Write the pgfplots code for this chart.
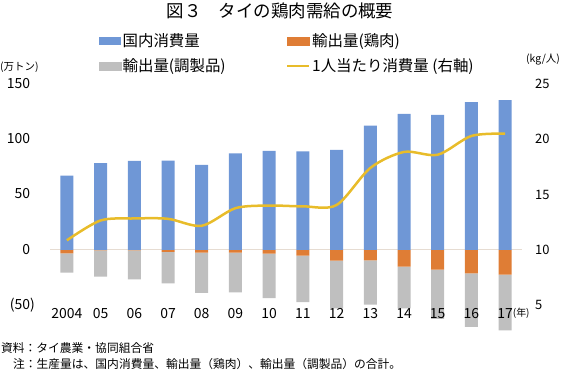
\documentclass[border=0pt]{standalone}
\usepackage{fontspec}
\setmainfont{Noto Sans CJK JP}
\usepackage{pgfplots}
\pgfplotsset{compat=1.18}
\usepackage{pgfplotstable}
\definecolor{cBlue}{HTML}{6F97D6}
\definecolor{cOrange}{HTML}{DF7D35}
\definecolor{cGray}{HTML}{BFBFBF}
\definecolor{cLine}{HTML}{E8BC2A}
\definecolor{cZero}{HTML}{E6DCD2}
\pgfplotstableread{
x blue orange gray line
0 67.1 -3.3 -17.5 10.85
1 78.3 -0.5 -23.9 12.65
2 80.4 -0.5 -26.3 12.83
3 80.7 -2.0 -28.4 12.80
4 76.8 -2.6 -36.5 12.17
5 87.3 -2.5 -36.0 13.76
6 89.4 -3.6 -40.1 14.00
7 89.1 -5.3 -42.0 13.93
8 90.3 -9.9 -43.1 14.05
9 112.3 -9.6 -40.1 17.40
10 122.9 -15.2 -37.8 18.85
11 122.0 -18.0 -44.6 18.60
12 133.7 -21.4 -48.5 20.30
13 135.5 -22.6 -50.3 20.50
}\datatable
\newcommand{\fs}[1]{\fontsize{#1}{#1}\selectfont}
\begin{document}
\begin{tikzpicture}[x=1bp,y=1bp]
\path[use as bounding box] (0,0) rectangle (564,372);
\pgfplotsset{base/.style={at={(50bp,67bp)}, anchor=south west, scale only axis,
  width=472bp, height=221bp, xmin=-0.5, xmax=13.5,
  axis line style={draw=none}, major tick length=0pt, tick style={draw=none}}}
% negative stacked bars
\begin{axis}[base, ymin=-50, ymax=150, ybar stacked, bar width=13bp, clip=false,
  xtick=\empty, ytick=\empty]
\addplot[fill=cOrange, draw=none] table[x=x,y=orange]{\datatable};
\addplot[fill=cGray, draw=none] table[x=x,y=gray]{\datatable};
\end{axis}
% domestic consumption + labels + legend
\begin{axis}[base, ymin=-50, ymax=150, ybar, bar width=13bp, bar shift=0pt, clip=false,
  xtick={0,...,13},
  xticklabels={2004,05,06,07,08,09,10,11,12,13,14,15,16,{17\rlap{\raisebox{2bp}{\fs{10}(年)}}}},
  ytick={-50,0,50,100,150},
  yticklabels={(50),0\phantom{)},50\phantom{)},100\phantom{)},150\phantom{)}},
  x tick label style={font=\fs{14}, inner sep=0pt, anchor=north, yshift=-3bp},
  y tick label style={font=\fs{14}, inner sep=0pt, anchor=east, xshift=-15bp},
  extra y ticks={0}, extra y tick labels={},
  extra y tick style={grid=major, major grid style={draw=cZero, line width=0.8pt}},
  legend columns=2, legend cell align=left,
  legend style={draw=none, fill=none, at={(0.1028,1.234)}, anchor=north west,
    inner sep=0pt, font=\fs{15.5},
    /tikz/every even column/.append style={column sep=59bp},
    row sep=7.5bp, nodes={inner xsep=1.5bp, inner ysep=1.5bp}}]
\addplot[fill=cBlue, draw=none,
  legend image code/.code={\fill[cBlue] (0bp,-4bp) rectangle (22bp,4bp);}]
  table[x=x,y=blue]{\datatable};
\addlegendentry{国内消費量}
\addlegendimage{legend image code/.code={\fill[cOrange] (0bp,-4bp) rectangle (22bp,4bp);}}
\addlegendentry{輸出量(鶏肉)}
\addlegendimage{legend image code/.code={\fill[cGray] (0bp,-4bp) rectangle (22bp,4bp);}}
\addlegendentry{輸出量(調製品)}
\addlegendimage{legend image code/.code={\draw[cLine, line width=2.5bp] (0bp,0bp) -- (22bp,0bp);}}
\addlegendentry{1人当たり消費量 (右軸)}
\end{axis}
% per-capita consumption, right axis
\begin{axis}[base, ymin=5, ymax=25, xtick=\empty, clip=false,
  yticklabel pos=right, ytick={5,10,15,20,25}, yticklabels={5,10,15,20,25},
  y tick label style={font=\fs{13}, inner sep=0pt, anchor=west, xshift=13bp}]
\addplot[cLine, line width=2.5bp, smooth, tension=0.5, mark=none]
  table[x=x,y=line]{\datatable};
\end{axis}
\node[font=\fs{17.5}] at (280,361) {図３　タイの鶏肉需給の概要};
\node[font=\fs{10.5}, anchor=west, inner sep=0pt] at (0,305) {(万トン)};
\node[font=\fs{10.5}, anchor=west, inner sep=0pt] at (526,312) {(kg/人)};
\node[font=\fs{11.8}, anchor=west, inner sep=0pt] at (1,24) {資料：タイ農業・協同組合省};
\node[font=\fs{11.8}, anchor=west, inner sep=0pt] at (13,8) {注：生産量は、国内消費量、輸出量（鶏肉）、輸出量（調製品）の合計。};
\end{tikzpicture}
\end{document}
